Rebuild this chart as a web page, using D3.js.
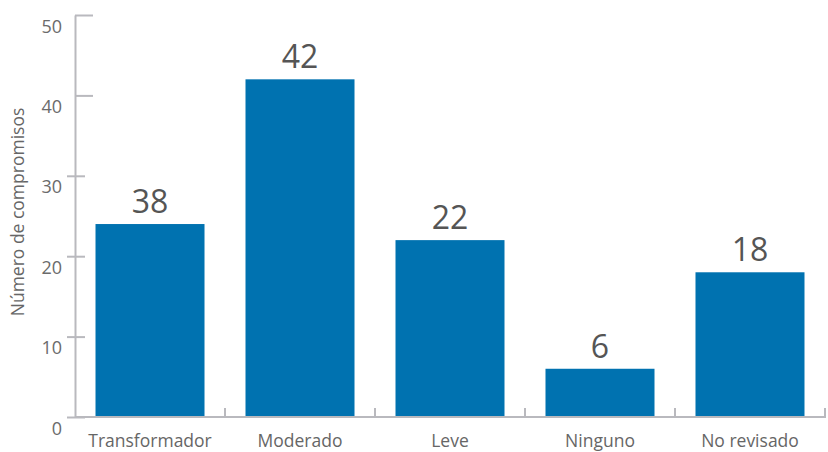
<!DOCTYPE html>
<html><head><meta charset="utf-8">
<script src="https://cdn.jsdelivr.net/npm/d3@7"></script>
<style>body{margin:0;background:#fff}svg{display:block}</style>
</head><body>
<svg id="c" width="828" height="452"></svg>
<script>
const categories = ["Transformador","Moderado","Leve","Ninguno","No revisado"];
const barValues = [24, 42, 22, 6, 18];
const barLabels = ["38","42","22","6","18"];
const yTicks = [0,10,20,30,40,50];
const yTitle = "Número de compromisos";

const svg = d3.select("#c");
const font = "'Open Sans', 'Noto Sans', sans-serif";
const axisColor = "#b9b9be";
const x = d3.scaleBand().domain(categories).range([75, 825]).paddingInner(0.2733).paddingOuter(0.1367);
const y = d3.scaleLinear().domain([0, 50]).range([417, 15]);

// bars
svg.append("g").selectAll("rect").data(categories).join("rect")
  .attr("x", d => x(d)).attr("width", x.bandwidth())
  .attr("y", (d,i) => y(barValues[i])).attr("height", (d,i) => y(0) - y(barValues[i]))
  .attr("fill", "#0072b0");

// y axis
const ya = svg.append("g").attr("transform", "translate(75,0)")
  .call(d3.axisLeft(y).tickValues(yTicks).tickSize(0).tickPadding(13));
ya.select(".domain").attr("stroke", axisColor).attr("stroke-width", 2);
ya.selectAll(".tick text").attr("font-family", font).attr("font-size", 18).attr("fill", "#6b6b6b").attr("dy", "0.95em");
ya.selectAll(".tick").append("line")
  .attr("x1", d => d >= 40 ? 0 : -8).attr("x2", d => d >= 40 ? 18 : 10)
  .attr("stroke", axisColor).attr("stroke-width", 2);

// x axis
const xa = svg.append("g").attr("transform", "translate(0,417)")
  .call(d3.axisBottom(x).tickSize(0).tickPadding(18));
xa.select(".domain").attr("stroke", axisColor).attr("stroke-width", 2).attr("d", "M75,0H826");
xa.selectAll(".tick text").attr("font-family", font).attr("font-size", 17.5).attr("fill", "#666");
const gap = (x.step() - x.bandwidth()) / 2;
svg.append("g").selectAll("line").data(categories).join("line")
  .attr("x1", d => x(d) + x.bandwidth() + gap)
  .attr("x2", d => x(d) + x.bandwidth() + gap)
  .attr("y1", 408).attr("y2", 417).attr("stroke", axisColor).attr("stroke-width", 2);

// value labels
svg.append("g").selectAll("text").data(categories).join("text")
  .attr("x", d => x(d) + x.bandwidth()/2)
  .attr("y", (d,i) => y(barValues[i]) - 11)
  .attr("text-anchor", "middle").attr("font-family", font).attr("font-size", 32)
  .attr("fill", "#555").text((d,i) => barLabels[i]);

// y title
svg.append("text").attr("transform", "translate(24,212) rotate(-90)")
  .attr("text-anchor", "middle").attr("font-family", font).attr("font-size", 17.5)
  .attr("fill", "#666").text(yTitle);
</script>
</body></html>
